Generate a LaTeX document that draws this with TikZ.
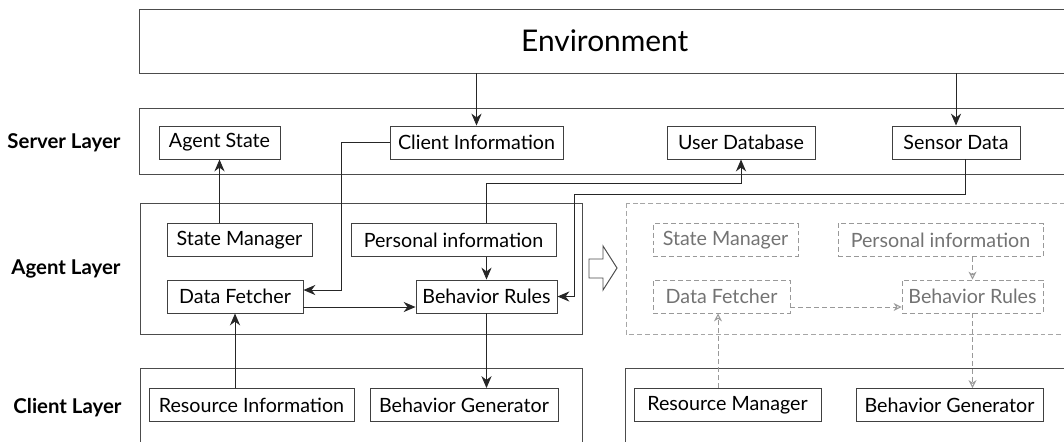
\documentclass[tikz,border=0pt]{standalone}
\usepackage{fontspec}
\setmainfont{Lato}
\usetikzlibrary{arrows.meta,calc}
\begin{document}
\begin{tikzpicture}[x=0.02cm, y=-0.02cm, line width=0.55pt]
	\tikzset{
	    bnode/.style= {draw=black!75, minimum height=0.66cm, inner sep=0pt, font=\fontsize{11.2}{13}\selectfont},
	    dnode/.style= {bnode, draw=black!40, dash pattern=on 2.8pt off 1.7pt, text=black!55},
	    layer/.style= {draw=black!70},
	    dlayer/.style= {draw=black!35, dash pattern=on 2.8pt off 1.7pt},
	    lname/.style= {anchor=east, inner sep=0pt, font=\bfseries\fontsize{11.6}{13}\selectfont},
	    arr/.style= {-{Stealth[length=6.8pt, width=5.8pt]}, black!85},
	    darr/.style= {-{Stealth[open, length=4.5pt, width=4.5pt]}, black!40, dash pattern=on 2.8pt off 1.7pt},
	}
	\useasboundingbox (0,0) rectangle (1064,441);
	\clip (0,0) rectangle (1064,441);
	
	% layers
	\node[draw=black!70, minimum width=18.61cm, minimum height=1.28cm, font=\fontsize{17}{20}\selectfont] (env) at (604.75, 41) {Environment};
	\draw[layer] (139.5,108) rectangle (1070,174);
	\draw[layer] (140,203) rectangle (582,334);
	\draw[layer] (140,368) rectangle (582,460);
	\draw[dlayer] (626,203) rectangle (1070,334);
	\draw[layer] (625,368) rectangle (1070,460);
	
	\node[lname] (lserver) at (121, 143) {Server Layer};
	\node[lname] (lagent) at (121, 269) {Agent Layer};
	\node[lname] (lclient) at (122, 408) {Client Layer};
	
	% server layer
	\node[bnode, minimum width=2.42cm] (agentstate) at (219.5, 142.5) {Agent State};
	\node[bnode, minimum width=3.46cm] (clientinfo) at (476.5, 142.5) {Client Information};
	\node[bnode, minimum width=2.96cm] (userdb) at (741, 142.5) {User Database};
	\node[bnode, minimum width=2.56cm] (sensordata) at (956, 142.5) {Sensor Data};
	
	% agent layer
	\node[bnode, minimum width=2.9cm] (statemgr) at (239.5, 240) {State Manager};
	\node[bnode, minimum width=4.1cm] (personal) at (453.5, 240) {Personal information};
	\node[bnode, minimum width=2.72cm] (fetcher) at (235, 296.5) {Data Fetcher};
	\node[bnode, minimum width=2.82cm] (rules) at (486.5, 296.5) {Behavior Rules};
	
	% client layer
	\node[bnode, minimum width=4.1cm] (resinfo) at (251.5, 405) {Resource Information};
	\node[bnode, minimum width=3.76cm] (generator) at (464, 405) {Behavior Generator};
	
	% new agent layer
	\node[dnode, minimum width=2.9cm] (statemgr2) at (725.5, 240) {State Manager};
	\node[dnode, minimum width=4.1cm] (personal2) at (940.5, 240) {Personal information};
	\node[dnode, minimum width=2.74cm] (fetcher2) at (721.5, 296.5) {Data Fetcher};
	\node[dnode, minimum width=2.82cm] (rules2) at (972.5, 296.5) {Behavior Rules};
	
	% new client layer
	\node[bnode, minimum width=3.74cm] (resmgr) at (727.5, 405) {Resource Manager};
	\node[bnode, minimum width=3.74cm] (generator2) at (949.5, 405) {Behavior Generator};
	
	\draw[draw=black!70, fill=white] (589,259) -- (603,259) -- (603,246) -- (617,268) -- (603,290) -- (603,278) -- (589,278) -- cycle;
	
	\draw[arr] (env.south -| clientinfo) -- (clientinfo.north);
	\draw[arr] (env.south -| sensordata) -- (sensordata.north);
	\draw[arr] (statemgr.north -| agentstate) -- (agentstate.south);
	\draw[arr] (clientinfo.west) -| ($(fetcher.east)+(38,-6.5)$) -- ($(fetcher.east)+(0,-6.5)$);
	\draw[arr] (personal.north -| rules) |- ($(userdb.south)+(0,24)$) -- (userdb.south);
	\draw[arr] ([xshift=0.18cm]sensordata.south) |- ($(sensordata.south)+(0,35)$) -| ($(rules.east)+(17,0)$) -- (rules.east);
	\draw[arr] (personal.south -| rules) -- (rules.north);
	\draw[arr] ($(fetcher.east)+(0,10.5)$) -- ($(rules.west)+(0,10.5)$);
	\draw[arr] (rules.south) -- (generator.north -| rules);
	\draw[arr] (resinfo.north -| fetcher) -- (fetcher.south);
	
	\draw[darr] (personal2.south -| rules2) -- (rules2.north);
	\draw[darr] ($(fetcher2.east)+(0,10.5)$) -- ($(rules2.west)+(0,10.5)$);
	\draw[darr] (resmgr.north -| 718,0) -- (fetcher2.south -| 718,0);
	\draw[darr] (rules2.south) -- (generator2.north -| rules2);
\end{tikzpicture}
\end{document}
